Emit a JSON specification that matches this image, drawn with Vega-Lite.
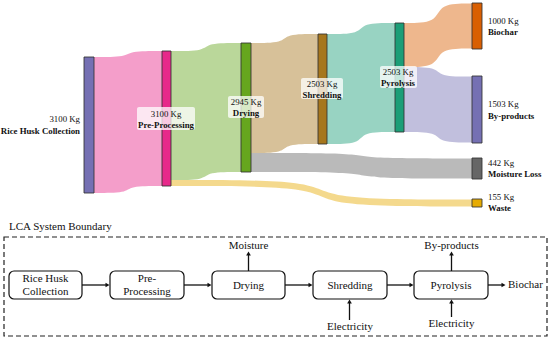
{
  "$schema": "https://vega.github.io/schema/vega-lite/v6.json",
  "width": 550,
  "height": 340,
  "padding": 0,
  "autosize": {"type": "none"},
  "background": "white",
  "config": {"view": {"stroke": null}, "font": "'Liberation Serif', 'Times New Roman', 'DejaVu Serif', serif"},
  "datasets": {
    "links": [
      {"link": "RH-PP", "c": "#e7298a", "x": 94, "y": 57, "y2": 193},
      {"link": "RH-PP", "c": "#e7298a", "x": 127, "y": 57, "y2": 193},
      {"link": "RH-PP", "c": "#e7298a", "x": 129, "y": 51, "y2": 186},
      {"link": "RH-PP", "c": "#e7298a", "x": 162, "y": 51, "y2": 186},
      {"link": "PP-DR", "c": "#66a61e", "x": 171, "y": 51, "y2": 180},
      {"link": "PP-DR", "c": "#66a61e", "x": 205, "y": 51, "y2": 180},
      {"link": "PP-DR", "c": "#66a61e", "x": 207, "y": 43, "y2": 172},
      {"link": "PP-DR", "c": "#66a61e", "x": 241, "y": 43, "y2": 172},
      {"link": "PP-WA", "c": "#e6ab02", "x": 171, "y": 180, "y2": 186},
      {"link": "PP-WA", "c": "#e6ab02", "x": 320, "y": 180, "y2": 186},
      {"link": "PP-WA", "c": "#e6ab02", "x": 322, "y": 199.5, "y2": 206.5},
      {"link": "PP-WA", "c": "#e6ab02", "x": 472, "y": 199.5, "y2": 206.5},
      {"link": "DR-SH", "c": "#a6761d", "x": 251, "y": 43, "y2": 153},
      {"link": "DR-SH", "c": "#a6761d", "x": 283.5, "y": 43, "y2": 153},
      {"link": "DR-SH", "c": "#a6761d", "x": 285.5, "y": 34, "y2": 144},
      {"link": "DR-SH", "c": "#a6761d", "x": 318, "y": 34, "y2": 144},
      {"link": "DR-ML", "c": "#666666", "x": 251, "y": 153, "y2": 172},
      {"link": "DR-ML", "c": "#666666", "x": 360.5, "y": 153, "y2": 172},
      {"link": "DR-ML", "c": "#666666", "x": 362.5, "y": 158.5, "y2": 178.5},
      {"link": "DR-ML", "c": "#666666", "x": 472, "y": 158.5, "y2": 178.5},
      {"link": "SH-PY", "c": "#1b9e77", "x": 327, "y": 34, "y2": 144},
      {"link": "SH-PY", "c": "#1b9e77", "x": 360, "y": 34, "y2": 144},
      {"link": "SH-PY", "c": "#1b9e77", "x": 362, "y": 23, "y2": 132},
      {"link": "SH-PY", "c": "#1b9e77", "x": 395, "y": 23, "y2": 132},
      {"link": "PY-BC", "c": "#d95f02", "x": 404, "y": 23, "y2": 67},
      {"link": "PY-BC", "c": "#d95f02", "x": 437, "y": 23, "y2": 67},
      {"link": "PY-BC", "c": "#d95f02", "x": 439, "y": 3.5, "y2": 48.5},
      {"link": "PY-BC", "c": "#d95f02", "x": 472, "y": 3.5, "y2": 48.5},
      {"link": "PY-BP", "c": "#7570b3", "x": 404, "y": 67, "y2": 132},
      {"link": "PY-BP", "c": "#7570b3", "x": 437, "y": 67, "y2": 132},
      {"link": "PY-BP", "c": "#7570b3", "x": 439, "y": 76.5, "y2": 142.5},
      {"link": "PY-BP", "c": "#7570b3", "x": 472, "y": 76.5, "y2": 142.5}
    ],
    "nodes": [
      {"n": "Rice Husk Collection", "c": "#7570b3", "x": 84, "x2": 94, "y": 57, "y2": 193},
      {"n": "Pre-Processing", "c": "#e7298a", "x": 162, "x2": 171, "y": 51, "y2": 186},
      {"n": "Drying", "c": "#66a61e", "x": 241, "x2": 251, "y": 43, "y2": 172},
      {"n": "Shredding", "c": "#a6761d", "x": 318, "x2": 327, "y": 34, "y2": 144},
      {"n": "Pyrolysis", "c": "#1b9e77", "x": 395, "x2": 404, "y": 23, "y2": 132},
      {"n": "Biochar", "c": "#d95f02", "x": 472, "x2": 482, "y": 3, "y2": 49},
      {"n": "By-products", "c": "#7570b3", "x": 472, "x2": 482, "y": 76, "y2": 143},
      {"n": "Moisture Loss", "c": "#666666", "x": 472, "x2": 482, "y": 158, "y2": 179},
      {"n": "Waste", "c": "#e6ab02", "x": 472, "x2": 482, "y": 199, "y2": 207}
    ],
    "labelbg": [
      {"x": 137, "x2": 195, "y": 107, "y2": 130},
      {"x": 228, "x2": 264, "y": 96, "y2": 118},
      {"x": 301, "x2": 343, "y": 78, "y2": 99},
      {"x": 380, "x2": 417, "y": 66, "y2": 88}
    ],
    "labels": [
      {"t": "3100 Kg", "w": "n", "a": "right", "x": 80, "y": 119},
      {"t": "Rice Husk Collection", "w": "b", "a": "right", "x": 80, "y": 131},
      {"t": "3100 Kg", "w": "n", "a": "center", "x": 166, "y": 114},
      {"t": "Pre-Processing", "w": "b", "a": "center", "x": 166, "y": 125},
      {"t": "2945 Kg", "w": "n", "a": "center", "x": 246, "y": 102},
      {"t": "Drying", "w": "b", "a": "center", "x": 246, "y": 113},
      {"t": "2503 Kg", "w": "n", "a": "center", "x": 322, "y": 84},
      {"t": "Shredding", "w": "b", "a": "center", "x": 322, "y": 95},
      {"t": "2503 Kg", "w": "n", "a": "center", "x": 398, "y": 72},
      {"t": "Pyrolysis", "w": "b", "a": "center", "x": 398, "y": 83},
      {"t": "1000 Kg", "w": "n", "a": "left", "x": 488, "y": 21},
      {"t": "Biochar", "w": "b", "a": "left", "x": 488, "y": 32},
      {"t": "1503 Kg", "w": "n", "a": "left", "x": 488, "y": 104},
      {"t": "By-products", "w": "b", "a": "left", "x": 488, "y": 116},
      {"t": "442 Kg", "w": "n", "a": "left", "x": 488, "y": 163},
      {"t": "Moisture Loss", "w": "b", "a": "left", "x": 488, "y": 174},
      {"t": "155 Kg", "w": "n", "a": "left", "x": 488, "y": 197},
      {"t": "Waste", "w": "b", "a": "left", "x": 488, "y": 208}
    ],
    "boundary": [{"x": 4, "x2": 547, "y": 237, "y2": 336}],
    "boxes": [
      {"n": "Rice Husk Collection", "x": 9, "x2": 82, "y": 271, "y2": 299},
      {"n": "Pre-Processing", "x": 110, "x2": 184, "y": 271, "y2": 299},
      {"n": "Drying", "x": 212, "x2": 285, "y": 271, "y2": 299},
      {"n": "Shredding", "x": 313, "x2": 387, "y": 271, "y2": 299},
      {"n": "Pyrolysis", "x": 414, "x2": 488, "y": 271, "y2": 299}
    ],
    "hlines": [
      {"x": 82, "x2": 107, "y": 285},
      {"x": 184, "x2": 209, "y": 285},
      {"x": 285, "x2": 310, "y": 285},
      {"x": 387, "x2": 411, "y": 285},
      {"x": 488, "x2": 503, "y": 285}
    ],
    "vlines": [
      {"x": 248.5, "y": 271, "y2": 254},
      {"x": 451.5, "y": 271, "y2": 254},
      {"x": 349.5, "y": 320, "y2": 302},
      {"x": 451.5, "y": 317, "y2": 302}
    ],
    "heads": [
      {"x": 107.5, "y": 285, "s": "triangle-right"},
      {"x": 209.5, "y": 285, "s": "triangle-right"},
      {"x": 310.5, "y": 285, "s": "triangle-right"},
      {"x": 411.5, "y": 285, "s": "triangle-right"},
      {"x": 503.5, "y": 285, "s": "triangle-right"},
      {"x": 248.5, "y": 253.5, "s": "triangle-up"},
      {"x": 451.5, "y": 253.5, "s": "triangle-up"},
      {"x": 349.5, "y": 301.5, "s": "triangle-up"},
      {"x": 451.5, "y": 301.5, "s": "triangle-up"}
    ],
    "flowtext": [
      {"t": "LCA System Boundary", "a": "left", "x": 9, "y": 227},
      {"t": "Rice Husk", "a": "center", "x": 45.5, "y": 279},
      {"t": "Collection", "a": "center", "x": 45.5, "y": 292},
      {"t": "Pre-", "a": "center", "x": 147, "y": 279},
      {"t": "Processing", "a": "center", "x": 147, "y": 292},
      {"t": "Drying", "a": "center", "x": 248.5, "y": 286},
      {"t": "Shredding", "a": "center", "x": 350, "y": 286},
      {"t": "Pyrolysis", "a": "center", "x": 451, "y": 286},
      {"t": "Biochar", "a": "left", "x": 508, "y": 285},
      {"t": "Moisture", "a": "center", "x": 248.5, "y": 246},
      {"t": "By-products", "a": "center", "x": 451.5, "y": 246},
      {"t": "Electricity", "a": "center", "x": 350, "y": 327},
      {"t": "Electricity", "a": "center", "x": 451.5, "y": 324}
    ]
  },
  "layer": [
    {
      "data": {"name": "links"},
      "mark": {"type": "area", "interpolate": "basis", "fillOpacity": 0.45},
      "encoding": {
        "x": {"field": "x", "type": "quantitative", "scale": {"domain": [0, 550], "nice": false, "zero": false}, "axis": null},
        "y": {"field": "y", "type": "quantitative", "stack": null, "scale": {"domain": [0, 340], "reverse": true, "nice": false, "zero": false}, "axis": null},
        "y2": {"field": "y2"},
        "color": {"field": "c", "type": "nominal", "scale": null},
        "detail": {"field": "link"}
      }
    },
    {
      "data": {"name": "nodes"},
      "mark": {"type": "rect", "stroke": "#333333", "strokeWidth": 1, "strokeOpacity": 0.85},
      "encoding": {
        "x": {"field": "x", "type": "quantitative"},
        "x2": {"field": "x2"},
        "y": {"field": "y", "type": "quantitative"},
        "y2": {"field": "y2"},
        "color": {"field": "c", "type": "nominal", "scale": null}
      }
    },
    {
      "data": {"name": "labelbg"},
      "mark": {"type": "rect", "fill": "white", "fillOpacity": 0.75, "cornerRadius": 2},
      "encoding": {
        "x": {"field": "x", "type": "quantitative"},
        "x2": {"field": "x2"},
        "y": {"field": "y", "type": "quantitative"},
        "y2": {"field": "y2"}
      }
    },
    {
      "data": {"name": "labels"},
      "transform": [{"filter": "datum.a == 'right' && datum.w == 'n'"}],
      "mark": {"type": "text", "font": "'Liberation Serif', 'Times New Roman', 'DejaVu Serif', serif", "align": "right", "baseline": "middle", "fontSize": 8.8, "color": "#111111"},
      "encoding": {"x": {"field": "x", "type": "quantitative"}, "y": {"field": "y", "type": "quantitative"}, "text": {"field": "t"}}
    },
    {
      "data": {"name": "labels"},
      "transform": [{"filter": "datum.a == 'right' && datum.w == 'b'"}],
      "mark": {"type": "text", "font": "'Liberation Serif', 'Times New Roman', 'DejaVu Serif', serif", "align": "right", "baseline": "middle", "fontSize": 8.8, "fontWeight": "bold", "color": "#111111"},
      "encoding": {"x": {"field": "x", "type": "quantitative"}, "y": {"field": "y", "type": "quantitative"}, "text": {"field": "t"}}
    },
    {
      "data": {"name": "labels"},
      "transform": [{"filter": "datum.a == 'center' && datum.w == 'n'"}],
      "mark": {"type": "text", "font": "'Liberation Serif', 'Times New Roman', 'DejaVu Serif', serif", "align": "center", "baseline": "middle", "fontSize": 8.8, "color": "#111111"},
      "encoding": {"x": {"field": "x", "type": "quantitative"}, "y": {"field": "y", "type": "quantitative"}, "text": {"field": "t"}}
    },
    {
      "data": {"name": "labels"},
      "transform": [{"filter": "datum.a == 'center' && datum.w == 'b'"}],
      "mark": {"type": "text", "font": "'Liberation Serif', 'Times New Roman', 'DejaVu Serif', serif", "align": "center", "baseline": "middle", "fontSize": 8.8, "fontWeight": "bold", "color": "#111111"},
      "encoding": {"x": {"field": "x", "type": "quantitative"}, "y": {"field": "y", "type": "quantitative"}, "text": {"field": "t"}}
    },
    {
      "data": {"name": "labels"},
      "transform": [{"filter": "datum.a == 'left' && datum.w == 'n'"}],
      "mark": {"type": "text", "font": "'Liberation Serif', 'Times New Roman', 'DejaVu Serif', serif", "align": "left", "baseline": "middle", "fontSize": 8.8, "color": "#111111"},
      "encoding": {"x": {"field": "x", "type": "quantitative"}, "y": {"field": "y", "type": "quantitative"}, "text": {"field": "t"}}
    },
    {
      "data": {"name": "labels"},
      "transform": [{"filter": "datum.a == 'left' && datum.w == 'b'"}],
      "mark": {"type": "text", "font": "'Liberation Serif', 'Times New Roman', 'DejaVu Serif', serif", "align": "left", "baseline": "middle", "fontSize": 8.8, "fontWeight": "bold", "color": "#111111"},
      "encoding": {"x": {"field": "x", "type": "quantitative"}, "y": {"field": "y", "type": "quantitative"}, "text": {"field": "t"}}
    },
    {
      "data": {"name": "boundary"},
      "mark": {"type": "rect", "fill": null, "fillOpacity": 0, "stroke": "#222222", "strokeWidth": 1.2, "strokeDash": [5, 3]},
      "encoding": {
        "x": {"field": "x", "type": "quantitative"},
        "x2": {"field": "x2"},
        "y": {"field": "y", "type": "quantitative"},
        "y2": {"field": "y2"}
      }
    },
    {
      "data": {"name": "boxes"},
      "mark": {"type": "rect", "fill": "white", "stroke": "#111111", "strokeWidth": 1.2, "cornerRadius": 5},
      "encoding": {
        "x": {"field": "x", "type": "quantitative"},
        "x2": {"field": "x2"},
        "y": {"field": "y", "type": "quantitative"},
        "y2": {"field": "y2"}
      }
    },
    {
      "data": {"name": "hlines"},
      "mark": {"type": "rule", "color": "#111111", "strokeWidth": 1.3},
      "encoding": {
        "x": {"field": "x", "type": "quantitative"},
        "x2": {"field": "x2"},
        "y": {"field": "y", "type": "quantitative"}
      }
    },
    {
      "data": {"name": "vlines"},
      "mark": {"type": "rule", "color": "#111111", "strokeWidth": 1.3},
      "encoding": {
        "x": {"field": "x", "type": "quantitative"},
        "y": {"field": "y", "type": "quantitative"},
        "y2": {"field": "y2"}
      }
    },
    {
      "data": {"name": "heads"},
      "mark": {"type": "point", "filled": true, "size": 22, "color": "#111111", "opacity": 1},
      "encoding": {
        "x": {"field": "x", "type": "quantitative"},
        "y": {"field": "y", "type": "quantitative"},
        "shape": {"field": "s", "type": "nominal", "scale": null}
      }
    },
    {
      "data": {"name": "flowtext"},
      "transform": [{"filter": "datum.a == 'center'"}],
      "mark": {"type": "text", "font": "'Liberation Serif', 'Times New Roman', 'DejaVu Serif', serif", "align": "center", "baseline": "middle", "fontSize": 11, "color": "#111111"},
      "encoding": {"x": {"field": "x", "type": "quantitative"}, "y": {"field": "y", "type": "quantitative"}, "text": {"field": "t"}}
    },
    {
      "data": {"name": "flowtext"},
      "transform": [{"filter": "datum.a == 'left'"}],
      "mark": {"type": "text", "font": "'Liberation Serif', 'Times New Roman', 'DejaVu Serif', serif", "align": "left", "baseline": "middle", "fontSize": 11, "color": "#111111"},
      "encoding": {"x": {"field": "x", "type": "quantitative"}, "y": {"field": "y", "type": "quantitative"}, "text": {"field": "t"}}
    }
  ]
}
